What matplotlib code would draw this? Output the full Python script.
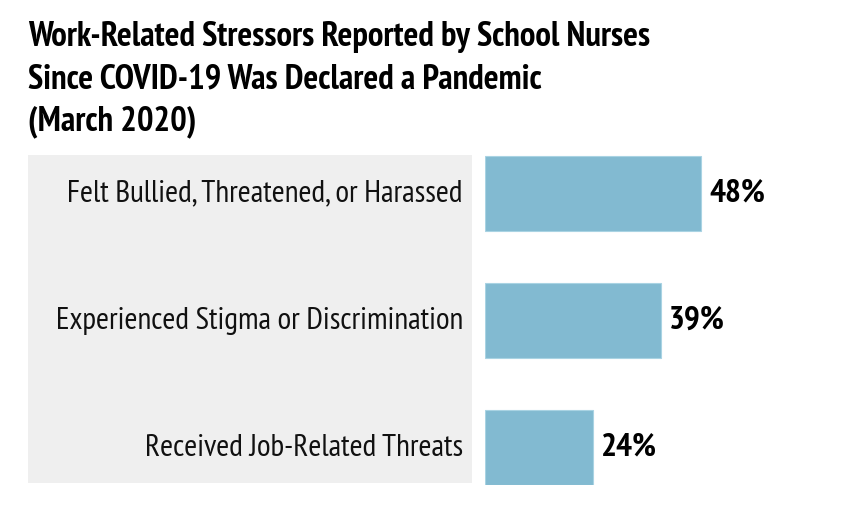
import matplotlib
matplotlib.use("Agg")
import matplotlib.pyplot as plt
from matplotlib.patches import Rectangle

# DATA
categories = ["Felt Bullied, Threatened, or Harassed",
              "Experienced Stigma or Discrimination",
              "Received Job-Related Threats"]
values = [48, 39, 24]
value_labels = ["48%", "39%", "24%"]

title_lines = ["Work-Related Stressors Reported by School Nurses",
               "Since COVID-19 Was Declared a Pandemic",
               "(March 2020)"]

FONT = ["PT Sans Narrow", "Fira Sans Condensed", "DejaVu Sans"]
BAR_COLOR = "#82bad1"
PANEL_COLOR = "#efefef"

W, H = 849, 523
fig = plt.figure(figsize=(W / 100, H / 100), dpi=100)

# gray panel behind labels
fig.patches.append(Rectangle((28 / W, 1 - 483 / H), (472 - 28) / W, (483 - 155) / H,
                             transform=fig.transFigure, facecolor=PANEL_COLOR,
                             edgecolor="none", zorder=-1))

# bar axes
ax = fig.add_axes([485 / W, 1 - 485 / H, (W - 485) / W, (485 - 155) / H])
ax.set_facecolor("none")
ypos = list(range(len(values)))
ax.barh(ypos, values, height=0.59, color=BAR_COLOR, edgecolor="#a9d3e3", linewidth=0.8)
ax.set_xlim(0, (W - 485) / 4.5)
ax.set_ylim(2.295, -0.303)
ax.axis("off")

for y, v, lab in zip(ypos, values, value_labels):
    ax.annotate(lab, (v, y), xytext=(6, 0), textcoords="offset points",
                ha="left", va="center", fontsize=24, fontweight="bold",
                family=FONT, color="black")
    # category labels right-aligned at the panel
    ax.annotate(categories[y], (0, y), xytext=(-16, 0), textcoords="offset points",
                ha="right", va="center", fontsize=22.6, family=FONT, color="#111111",
                annotation_clip=False)

# title, one line at a time (baselines)
for i, line in enumerate(title_lines):
    fig.text(28 / W, 1 - (46 + 42 * i) / H, line, ha="left", va="baseline",
             fontsize=25, fontweight="bold", family=FONT, color="black")

fig.savefig("out.png", dpi=100)
